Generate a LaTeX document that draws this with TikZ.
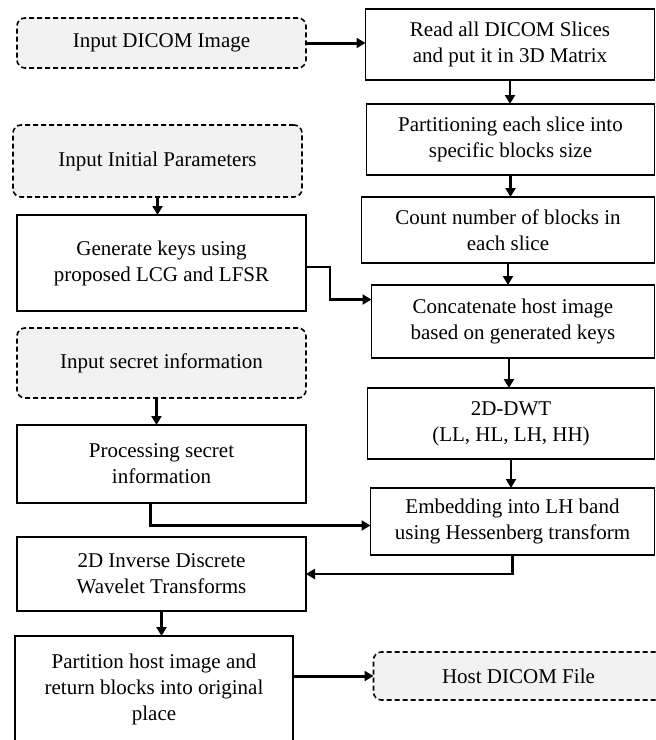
\documentclass[tikz,border=0pt]{standalone}
\usepackage{fontspec}
\setmainfont{Liberation Serif}
\usepackage{xcolor}
\usetikzlibrary{arrows.meta, positioning}
\definecolor{input-gray}{HTML}{F2F2F2}

\begin{document}
\begin{tikzpicture}[
    x=1pt, y=1pt,
    font=\fontsize{21}{26}\selectfont,
    proc/.style={draw, line width=1.6pt, align=center, inner sep=2pt, outer sep=0pt},
    inbox/.style={draw, fill=input-gray, line width=1.6pt, dash pattern=on 5pt off 3pt, rounded corners=8pt, align=center, inner sep=2pt, outer sep=0pt},
    arr/.style={-{Triangle[length=9pt, width=10pt]}, line width=2.2pt}
]
    \useasboundingbox (0,0) rectangle (656,-740);

    % right column
    \node (readsl) [proc, minimum width=289pt, minimum height=71pt, anchor=north east] at (654.5,-9) {Read all DICOM Slices\\and put it in 3D Matrix};
    \node (partsl) [proc, minimum width=288pt, minimum height=71pt, below=24pt of readsl.south east, anchor=north east] {Partitioning each slice into\\specific blocks size};
    \node (countbl) [proc, minimum width=293pt, minimum height=66pt, below=22pt of partsl.south east, anchor=north east] {Count number of blocks in\\each slice};
    \node (concat) [proc, minimum width=283pt, minimum height=73pt, below=22pt of countbl.south east, anchor=north east] {Concatenate host image\\based on generated keys};
    \node (dwt) [proc, minimum width=287pt, minimum height=71pt, below=30pt of concat.south east, anchor=north east] {2D-DWT\\(LL, HL, LH, HH)};
    \node (embed) [proc, minimum width=284pt, minimum height=67pt, below=29pt of dwt.south east, anchor=north east] {Embedding into LH band\\using Hessenberg transform};
    \node (hostout) [inbox, minimum width=290pt, minimum height=48pt, below=97pt of embed.south west, anchor=north west, xshift=3pt] {Host DICOM File};

    % left column
    \node (dicomin) [inbox, minimum width=289pt, minimum height=50pt, anchor=north west] at (17,-18) {Input DICOM Image};
    \node (initpar) [inbox, minimum width=289pt, minimum height=72pt, below=57pt of dicomin.south west, anchor=north west, xshift=-4pt] {Input Initial Parameters};
    \node (genkey) [proc, minimum width=289pt, minimum height=96pt, below=18pt of initpar.south west, anchor=north west, xshift=4pt] {Generate keys using\\proposed LCG and LFSR};
    \node (secret) [inbox, minimum width=289pt, minimum height=70pt, below=17pt of genkey.south west, anchor=north west] {Input secret information};
    \node (procsec) [proc, minimum width=289pt, minimum height=78pt, below=27pt of secret.south west, anchor=north west] {Processing secret\\information};
    \node (idwt) [proc, minimum width=289pt, minimum height=74pt, below=34pt of procsec.south west, anchor=north west] {2D Inverse Discrete\\Wavelet Transforms};
    \node (parthost) [proc, minimum width=278pt, minimum height=106pt, below=25pt of idwt.south west, anchor=north west, xshift=-2pt] {Partition host image and\\return blocks into original\\place};

    % connectors
    \draw [arr, line width=3pt] (dicomin.east) -- (dicomin.east -| readsl.west);
    \foreach \a/\b in {readsl/partsl, partsl/countbl, countbl/concat, dwt/embed, initpar/genkey}
        \draw [arr] (\a.south) -- (\a.south |- \b.north);
    \draw [arr] ([xshift=-4pt]concat.south) -- ([xshift=-4pt]concat.south |- dwt.north);
    \draw [arr] ([xshift=-5pt]secret.south) -- ([xshift=-5pt]secret.south |- procsec.north);
    \draw [arr] ([yshift=-4pt]genkey.east) -- ++(24pt,0) |- ([yshift=22pt]concat.west);
    \draw [arr] ([xshift=-11pt]procsec.south) |- ([yshift=-4pt]embed.west);
    \draw [arr] (embed.south) |- (idwt.east);
    \draw [arr, line width=3.5pt] (idwt.south) -- (idwt.south |- parthost.north);
    \draw [arr, line width=3pt] (parthost.east |- hostout.west) -- (hostout.west);
\end{tikzpicture}
\end{document}
